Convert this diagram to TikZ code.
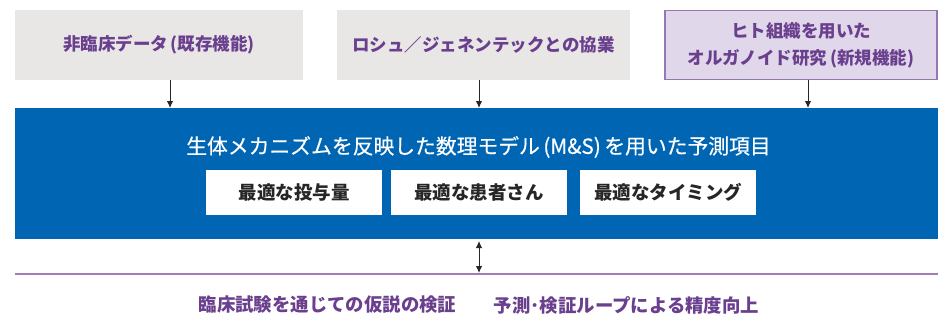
\documentclass[tikz,border=0pt]{standalone}
\usepackage{fontspec}
\newfontfamily\jp{Noto Sans CJK JP}
\newfontfamily\jpm[FakeBold=0.4]{Noto Sans CJK JP}
\usetikzlibrary{arrows.meta}
\definecolor{boxgray}{HTML}{E8E7E6}
\definecolor{lilac}{HTML}{E0D8EA}
\definecolor{lilacborder}{HTML}{9479B0}
\definecolor{ptext}{HTML}{6A3F8E}
\definecolor{mainblue}{HTML}{0066B3}
\definecolor{lineviolet}{HTML}{9E7DB8}
\tikzset{
  srcbox/.style={fill=boxgray, inner sep=0pt, outer sep=0pt, minimum height=70pt, align=center,
    font=\jp\bfseries\fontsize{17.5}{27}\selectfont, text=ptext},
  newbox/.style={srcbox, fill=lilac, draw=lilacborder, line width=1.2pt},
  itembox/.style={fill=white, inner sep=0pt, outer sep=0pt, minimum width=176pt, minimum height=45pt,
    font=\jp\bfseries\fontsize{18.5}{20}\selectfont, text=black!85},
  feed/.style={-{Latex[length=7pt,width=6.5pt]}, line width=1pt, black!85},
  loop/.style={{Latex[length=7pt,width=6.5pt]}-{Latex[length=7pt,width=6.5pt]}, line width=1pt, black!85},
  foot/.style={font=\jp\bfseries\fontsize{18.4}{20}\selectfont, text=ptext, inner sep=0pt}
}
\begin{document}
\begin{tikzpicture}[x=1pt,y=-1pt]
\useasboundingbox (0,0) rectangle (938,324);
% source boxes
\node[srcbox, minimum width=288pt] (b1) at (159,45) {非臨床データ\,(既存機能)};
\node[srcbox, minimum width=293pt] (b2) at (483.5,45) {ロシュ／ジェネンテックとの協業};
\node[newbox, minimum width=272pt, minimum height=69pt] (b3) at (801,45) {ヒト組織を用いた\\オルガノイド研究\,(新規機能)};
% main blue box
\node[fill=mainblue, inner sep=0pt, outer sep=0pt, minimum width=923pt, minimum height=131pt] (main) at (476.5,173.5) {};
\node[text=white, inner sep=0pt, font=\jpm\fontsize{20.8}{24}\selectfont] (title) at (478.5,147) {生体メカニズムを反映した数理モデル\,(M\&S)\,を用いた予測項目};
\node[itembox] (i1) at (294,192.5) {最適な投与量};
\node[itembox] (i2) at (479,192.5) {最適な患者さん};
\node[itembox] (i3) at (668,192.5) {最適なタイミング};
% feed arrows
\coordinate (t1) at (170,108);
\coordinate (t2) at (479,108);
\coordinate (t3) at (808,108);
\draw[feed] (b1.south -| t1) -- (t1);
\draw[feed] (b2.south -| t2) -- (t2);
\draw[feed] (b3.south -| t3) -- (t3);
% bottom line
\coordinate (lineL) at (15,274);
\coordinate (lineR) at (938,274);
\draw[lineviolet, line width=1.5pt] (lineL) -- (lineR);
\coordinate (lp) at (479,273);
\draw[loop] (main.south -| lp) ++(0,2) -- (lp);
% footer texts
\node[foot] (f1) at (327.5,305) {臨床試験を通じての仮説の検証};
\node[foot] (f2) at (626.5,305) {予測･検証ループによる精度向上};
\end{tikzpicture}
\end{document}
